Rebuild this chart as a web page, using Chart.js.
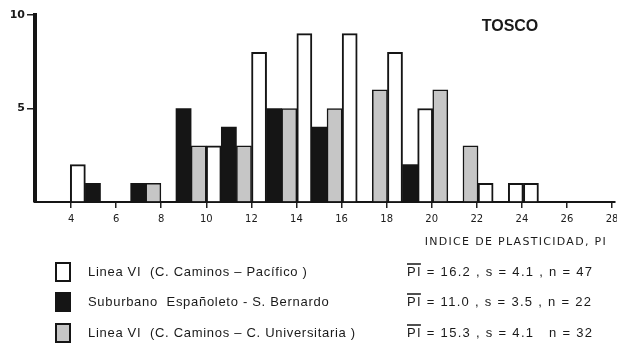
<!DOCTYPE html>
<html>
<head>
<meta charset="utf-8">
<script src="https://cdn.jsdelivr.net/npm/chart.js@4.4.1/dist/chart.umd.min.js"></script>
<style>
  html, body { margin: 0; padding: 0; background: #fff; }
  #wrap { width: 617px; height: 349px; position: relative; }
</style>
</head>
<body>
<div id="wrap"><canvas id="myChart" width="617" height="349"></canvas></div>
<script>
// posicion de cada barra (indice de plasticidad) y numero de muestras
var pacificoPI = [4.30, 10.33, 12.34, 14.35, 16.36, 18.37, 19.71, 22.39, 23.73, 24.40];
var pacificoN = [2, 3, 8, 9, 9, 8, 5, 1, 1, 1];

var suburbanoPI = [4.97, 6.98, 8.99, 11.00, 13.01, 15.02, 19.04];
var suburbanoN = [1, 1, 5, 4, 5, 4, 2];

var universitariaPI = [7.65, 9.66, 11.67, 13.68, 15.69, 17.70, 20.38, 21.72];
var universitariaN = [1, 3, 3, 5, 5, 6, 6, 3];

var xTicks = [4, 6, 8, 10, 12, 14, 16, 18, 20, 22, 24, 26, 28];
var yTicks = [0, 5, 10];

var seriesNames = [
  "Linea VI  (C. Caminos \u2013 Pac\u00edfico )",
  "Suburbano  Espa\u00f1oleto - S. Bernardo",
  "Linea VI  (C. Caminos \u2013 C. Universitaria )"
];
var means = ["16.2", "11.0", "15.3"];
var sds = ["4.1", "3.5", "4.1"];
var counts = [47, 22, 32];

var fillColors = ["#ffffff", "#151515", "#c6c6c6"];

function toPoints(xs, ys) {
  return xs.map(function (x, i) { return { x: x, y: ys[i] }; });
}

var textPlugin = {
  id: "textPlugin",
  afterDraw: function (chart) {
    var c = chart.ctx;
    c.save();
    c.fillStyle = "#1a1a1a";
    c.textBaseline = "middle";

    // titulo
    c.font = "bold 16px 'Liberation Sans'";
    c.textAlign = "center";
    c.fillText("TOSCO", 510, 27);

    // titulo del eje x
    c.font = "11px 'DejaVu Sans'";
    c.letterSpacing = "1.3px";
    c.textAlign = "right";
    c.fillText("INDICE DE PLASTICIDAD, PI", 607, 242);

    // leyenda con estadisticos
    var rows = [272, 302, 333];
    for (var i = 0; i < rows.length; i++) {
      var y = rows[i];
      c.fillStyle = fillColors[i];
      c.fillRect(56, y - 9, 14, 18);
      c.strokeStyle = "#151515";
      c.lineWidth = 2;
      c.strokeRect(56, y - 9, 14, 18);

      c.fillStyle = "#1a1a1a";
      c.textAlign = "left";
      c.letterSpacing = "0.7px";
      c.font = "13px 'Liberation Sans'";
      c.fillText(seriesNames[i], 88, y);

      c.letterSpacing = "1.3px";
      var sep = i === 2 ? "   " : " , ";
      var stat = "PI = " + means[i] + " , s = " + sds[i] + sep + "n = " + counts[i];
      c.fillText(stat, 407, y);
      var w = c.measureText("PI").width;
      c.beginPath();
      c.lineWidth = 1.5;
      c.moveTo(407, y - 8);
      c.lineTo(407 + w - 1, y - 8);
      c.stroke();
    }
    c.restore();
  }
};

var ctx = document.getElementById("myChart");

var myChart = new Chart(ctx, {
  type: "bar",
  data: {
    datasets: [
      {
        label: seriesNames[0],
        data: toPoints(pacificoPI, pacificoN),
        backgroundColor: fillColors[0],
        borderColor: "#151515",
        borderWidth: 2
      },
      {
        label: seriesNames[1],
        data: toPoints(suburbanoPI, suburbanoN),
        backgroundColor: fillColors[1],
        borderColor: "#151515",
        borderWidth: 0
      },
      {
        label: seriesNames[2],
        data: toPoints(universitariaPI, universitariaN),
        backgroundColor: fillColors[2],
        borderColor: "#151515",
        borderWidth: 1.5
      }
    ]
  },
  options: {
    responsive: false,
    animation: false,
    layout: { padding: { top: 15, right: 2, left: 0, bottom: 0 } },
    datasets: {
      bar: { grouped: false, barPercentage: 1, categoryPercentage: 1 }
    },
    plugins: {
      legend: { display: false },
      tooltip: { enabled: false }
    },
    scales: {
      x: {
        type: "linear",
        min: 2.4,
        max: 28.13,
        offset: false,
        afterBuildTicks: function (scale) {
          scale.ticks = xTicks.map(function (v) { return { value: v }; });
        },
        afterFit: function (scale) {
          scale.height = 147;
          scale.paddingLeft = 0;
          scale.paddingRight = 0;
        },
        grid: { drawOnChartArea: false, offset: false, tickLength: 6, color: "#222", lineWidth: 1.5 },
        border: { color: "#151515", width: 2 },
        ticks: {
          color: "#1a1a1a",
          padding: 5,
          maxRotation: 0,
          autoSkip: false,
          font: { family: "'DejaVu Sans'", size: 10 }
        }
      },
      y: {
        min: 0,
        max: 10,
        afterBuildTicks: function (scale) {
          scale.ticks = yTicks.map(function (v) { return { value: v }; });
        },
        afterFit: function (scale) {
          scale.width = 35;
          scale.paddingTop = 0;
          scale.paddingBottom = 0;
        },
        grid: {
          drawOnChartArea: false,
          tickLength: 8,
          lineWidth: 1.5,
          color: function (c) {
            return c.tick && c.tick.value === 0 ? "rgba(0,0,0,0)" : "#222";
          }
        },
        border: { color: "#151515", width: 4 },
        ticks: {
          color: "#1a1a1a",
          padding: 2,
          font: { family: "'DejaVu Sans'", size: 11, weight: "bold" },
          callback: function (v) { return v === 0 ? "" : v; }
        }
      }
    }
  },
  plugins: [textPlugin]
});
</script>
</body>
</html>
